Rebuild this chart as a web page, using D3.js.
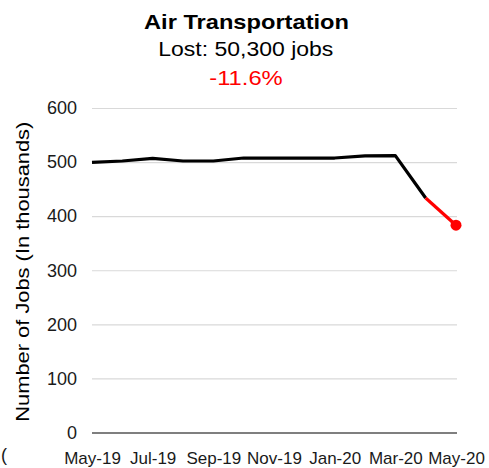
<!DOCTYPE html>
<html>
<head>
<meta charset="utf-8">
<script src="https://cdn.jsdelivr.net/npm/d3@7"></script>
<style>
  html, body { margin: 0; padding: 0; background: #fff; }
  svg { display: block; font-family: "Liberation Sans", Arial, sans-serif; }
</style>
</head>
<body>
<svg id="chart" width="489" height="468"></svg>
<script>
// ---- data ----
const months = ["May-19","Jun-19","Jul-19","Aug-19","Sep-19","Oct-19","Nov-19","Dec-19","Jan-20","Feb-20","Mar-20","Apr-20","May-20"];
const jobs = [499.5, 502, 507, 502, 502, 507.5, 507.5, 507.5, 507.5, 511.5, 512, 433.6, 383.3];
const xTickLabels = ["May-19","Jul-19","Sep-19","Nov-19","Jan-20","Mar-20","May-20"];
const yTicks = [0, 100, 200, 300, 400, 500, 600];
const titleText = "Air Transportation";
const subtitleText = "Lost: 50,300 jobs";
const changeText = "-11.6%";
const yAxisTitle = "Number of Jobs (In thousands)";

// ---- layout ----
const svg = d3.select("#chart");
const plotLeft = 92, plotRight = 456, plotTop = 108, plotBottom = 432.5;

const x = d3.scalePoint().domain(months).range([plotLeft, plotRight]);
const y = d3.scaleLinear().domain([0, 600]).range([plotBottom, plotTop]);

// titles
svg.append("text").attr("x", 246.5).attr("y", 29).attr("text-anchor", "middle")
  .attr("font-size", 20.5).attr("font-weight", "bold").attr("fill", "#000")
  .attr("textLength", 205).attr("lengthAdjust", "spacingAndGlyphs").text(titleText);
svg.append("text").attr("x", 245.8).attr("y", 55.5).attr("text-anchor", "middle")
  .attr("font-size", 20.5).attr("fill", "#000")
  .attr("textLength", 175).attr("lengthAdjust", "spacingAndGlyphs").text(subtitleText);
svg.append("text").attr("x", 246).attr("y", 84.5).attr("text-anchor", "middle")
  .attr("font-size", 20).attr("fill", "#ff0000")
  .attr("textLength", 73.5).attr("lengthAdjust", "spacingAndGlyphs").text(changeText);

// y axis + gridlines
const yAxis = d3.axisLeft(y).tickValues(yTicks).tickFormat(d3.format("d"))
  .tickSize(-(plotRight + 1 - plotLeft)).tickPadding(15);
const gy = svg.append("g").attr("transform", `translate(${plotLeft},0)`).call(yAxis);
gy.select(".domain").remove();
gy.selectAll(".tick line").attr("stroke", "#d9d9d9").attr("stroke-width", 1.2);
gy.selectAll(".tick").filter(d => d === 0).select("line")
  .attr("stroke", "#7f7f7f").attr("stroke-width", 2);
gy.selectAll(".tick text").attr("font-size", 18).attr("fill", "#1a1a1a")
  .attr("font-family", "'Liberation Sans', Arial, sans-serif");

// x axis labels
const xAxis = d3.axisBottom(x).tickValues(xTickLabels).tickSize(0).tickPadding(19);
const gx = svg.append("g").attr("transform", `translate(0,${plotBottom})`).call(xAxis);
gx.select(".domain").remove();
gx.selectAll(".tick text").attr("font-size", 17).attr("fill", "#1a1a1a")
  .attr("font-family", "'Liberation Sans', Arial, sans-serif");

// y axis title
svg.append("text")
  .attr("transform", "translate(29,271.7) rotate(-90)")
  .attr("text-anchor", "middle").attr("font-size", 19).attr("fill", "#000")
  .attr("textLength", 300).attr("lengthAdjust", "spacingAndGlyphs")
  .text(yAxisTitle);

// clipped fragment at bottom-left
svg.append("text").attr("x", 1).attr("y", 461).attr("font-size", 18).attr("fill", "#1a1a1a").text("(");

// line (black part up to Apr-20)
const line = d3.line().x((d, i) => x(months[i])).y(d => y(d));
const lastIdx = jobs.length - 1;
svg.append("path")
  .datum(jobs.slice(0, lastIdx))
  .attr("fill", "none").attr("stroke", "#000").attr("stroke-width", 3.2)
  .attr("stroke-linejoin", "round")
  .attr("d", line);

// red last segment
svg.append("path")
  .datum(jobs.slice(lastIdx - 1))
  .attr("fill", "none").attr("stroke", "#ff0000").attr("stroke-width", 3.2)
  .attr("d", d3.line().x((d, i) => x(months[lastIdx - 1 + i])).y(d => y(d)));

// red dot
svg.append("circle")
  .attr("cx", x(months[lastIdx])).attr("cy", y(jobs[lastIdx]))
  .attr("r", 5.5).attr("fill", "#ff0000");
</script>
</body>
</html>
